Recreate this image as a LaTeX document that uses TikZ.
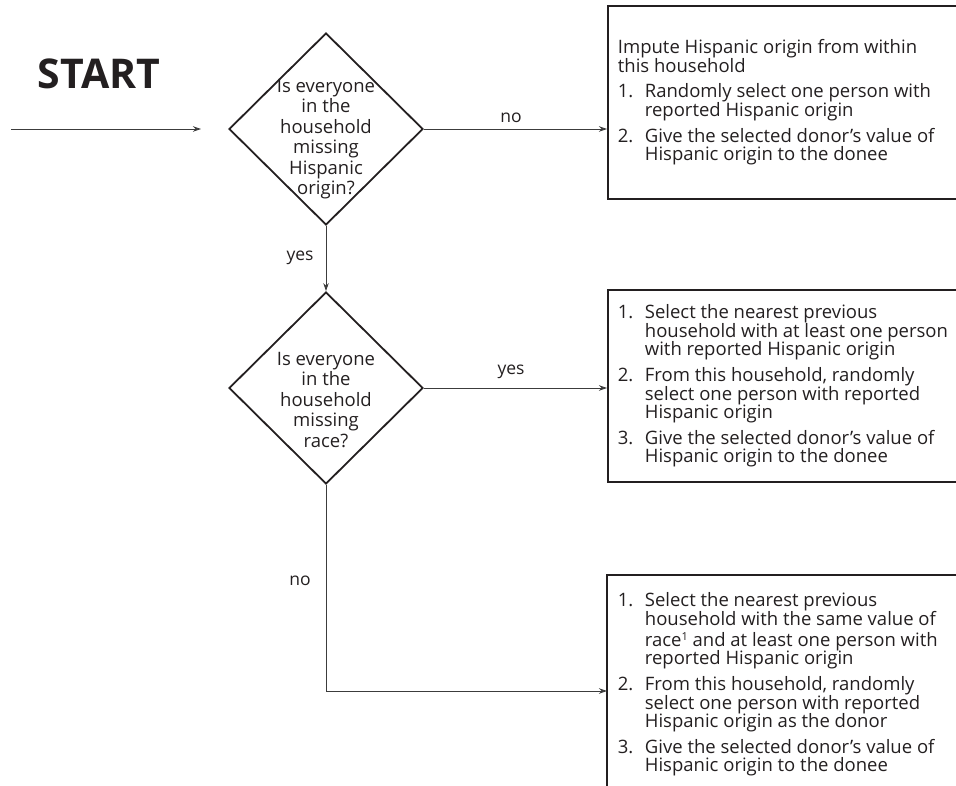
\documentclass[tikz,border=0pt]{standalone}
\usepackage{fontspec}
\setmainfont{Open Sans}
\usetikzlibrary{arrows.meta,shapes.geometric}
\definecolor{ink}{HTML}{231F20}
\definecolor{wire}{HTML}{3C3C3C}
\newcommand{\itm}[2]{\hangindent=27pt\hangafter=1\noindent\makebox[27pt][l]{#1}#2\par}
\newcommand{\boxtext}[1]{\parbox{330pt}{\setlength{\parskip}{7pt}#1}}
\newcommand{\supone}{\raisebox{0.3em}{\fontsize{11}{11}\selectfont 1}}
\begin{document}
\begin{tikzpicture}[x=1pt,y=-1pt,
  font=\fontsize{18.5}{18.6}\selectfont,
  every node/.style={text=ink},
  diam/.style={draw=ink,line width=1.8pt,shape=diamond,minimum width=194pt,minimum height=192pt,inner sep=0pt},
  dtext/.style={align=center,font=\fontsize{18.5}{20.5}\selectfont},
  procbox/.style={draw=ink,line width=1.8pt,anchor=north west,minimum width=345pt,inner xsep=10pt,inner ysep=0pt},
  boxline/.style={draw=ink,line width=1.8pt},
  conn/.style={draw=wire,line width=0.9pt,-{Stealth[length=8pt,width=5.5pt]}},
  lbl/.style={font=\fontsize{17.5}{17.5}\selectfont},
  starttext/.style={font=\fontsize{41}{41}\selectfont\bfseries}
]
\useasboundingbox (0,0) rectangle (956,786);
\coordinate (pagebot) at (0,786);

% start
\node[starttext] (start) at (99,74) {START};
\coordinate (s0) at (11,129);
\coordinate (s1) at (201,129);
\draw[conn] (s0) -- (s1);

% decisions
\node[diam] (d1) at (326,129) {};
\node[dtext] (t1) at (326,139) {Is everyone\\in the\\household\\missing\\Hispanic\\origin?};
\node[diam] (d2) at (326,388) {};
\node[dtext] (t2) at (326,400) {Is everyone\\in the\\household\\missing\\race?};

% boxes
\node[procbox,minimum height=193pt] (b1) at (607,5) {\boxtext{%
Impute Hispanic origin from within\\this household\par
\itm{1.}{Randomly select one person with\\reported Hispanic origin}
\itm{2.}{Give the selected donor’s value of\\Hispanic origin to the donee}}};

\node[procbox,minimum height=192pt] (b2) at (607,289) {\boxtext{%
\itm{1.}{Select the nearest previous\\household with at least one person\\with reported Hispanic origin}
\itm{2.}{From this household, randomly\\select one person with reported\\Hispanic origin}
\itm{3.}{Give the selected donor’s value of\\Hispanic origin to the donee}}};

\node[procbox,draw=none,minimum height=217pt] (b3) at (607,575) {\boxtext{%
\itm{1.}{Select the nearest previous\\household with the same value of\\[2.5pt]race\supone{} and at least one person with\\reported Hispanic origin}
\itm{2.}{From this household, randomly\\select one person with reported\\Hispanic origin as the donor}
\itm{3.}{Give the selected donor’s value of\\Hispanic origin to the donee}}};
\draw[boxline] (b3.west |- pagebot) -- (b3.north west) -- (b3.north east) -- (b3.east |- pagebot);

% connectors
\draw[conn] (d1.east) -- (d1.east -| b1.west);
\draw[conn] (d1.south) -- (d2.north);
\draw[conn] (d2.east) -- (d2.east -| b2.west);
\coordinate (c3) at (326,691);
\draw[conn] (d2.south) -- (c3) -- (c3 -| b3.west);

% labels
\node[lbl] (lno1) at (511,118) {no};
\node[lbl] (lyes1) at (300,258) {yes};
\node[lbl] (lyes2) at (511,372) {yes};
\node[lbl] (lno2) at (300,581) {no};
\end{tikzpicture}
\end{document}
